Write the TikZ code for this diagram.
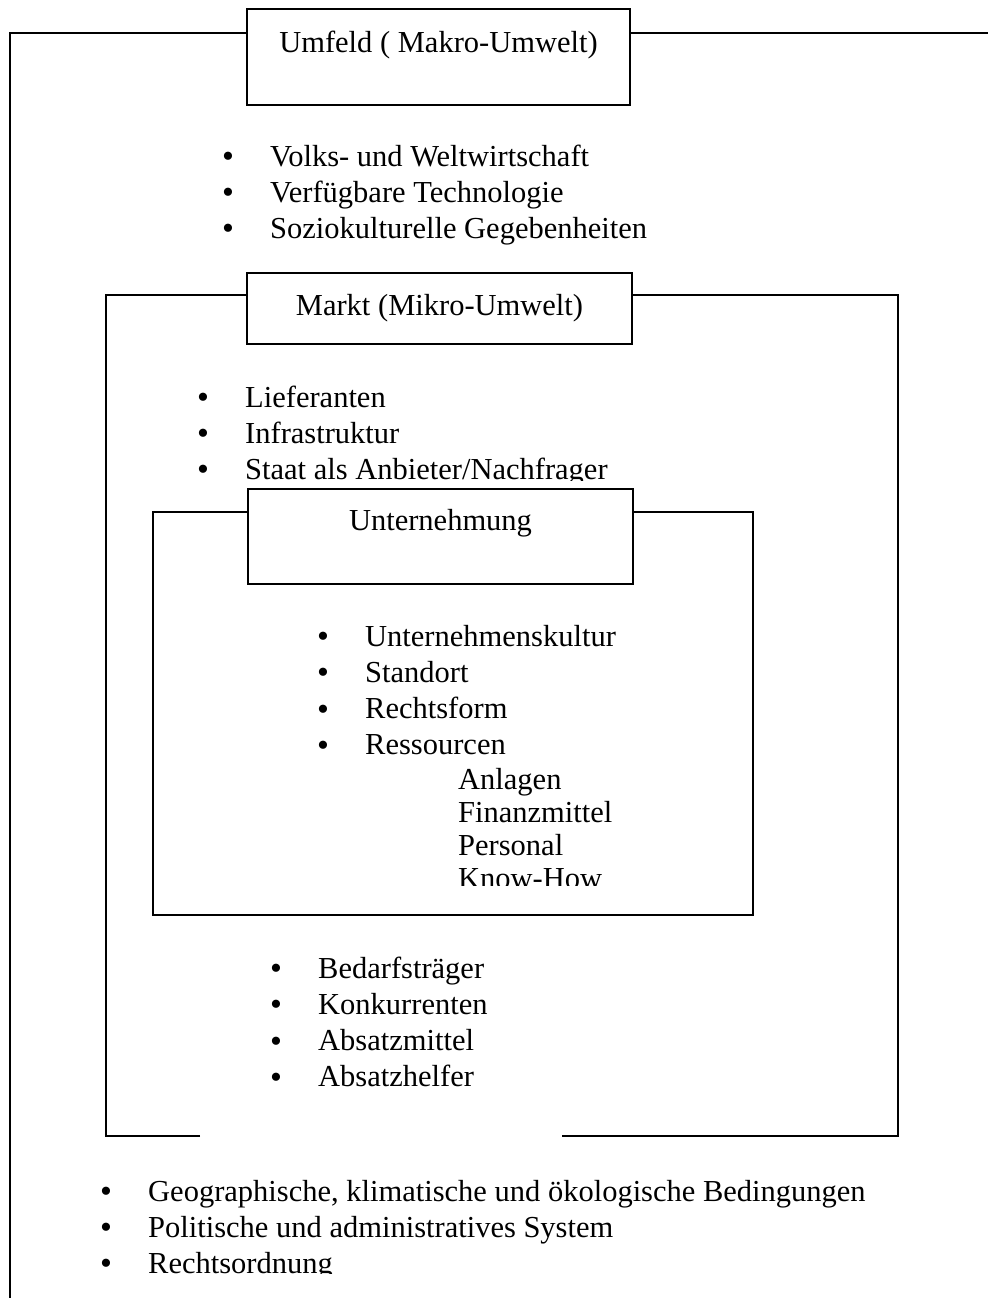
\documentclass[tikz,border=0pt]{standalone}
\usepackage{fontspec}
\setmainfont{Liberation Serif}
\usetikzlibrary{positioning}

\tikzset{
  frameline/.style={line width=1.6pt},
  titlebox/.style={draw, fill=white, line width=1.6pt, inner sep=0pt, anchor=north},
  entry/.style={anchor=base west, inner sep=0pt},
  dot/.style={anchor=base, inner sep=0pt, font=\fontsize{34}{34}\selectfont},
}

\begin{document}
\begin{tikzpicture}[x=1pt, y=-1pt, font=\fontsize{30.5}{36}\selectfont]
  \useasboundingbox (0,0) rectangle (988,1298);

  % Umfeld (outer frame)
  \draw [frameline] (10,1298) -- (10,33) -- (988,33);
  \node [titlebox, minimum width=383pt, text height=44pt, text depth=52pt] (umfeld) at (438.5,8) {Umfeld ( Makro-Umwelt)};
  \foreach \t [count=\i] in {Volks- und Weltwirtschaft, Verfügbare Technologie, Soziokulturelle Gegebenheiten} {
    \node [entry] (makro\i) at (270,{166+36*(\i-1)}) {\t};
    \node [dot] (makrob\i) at ([xshift=-42pt, yshift=-1.5pt]makro\i.base west) {•};
  }

  % Markt
  \draw [frameline] (200,1136) -- (106,1136) -- (106,295) -- (898,295) -- (898,1136) -- (562,1136);
  \node [titlebox, minimum width=385pt, text height=43pt, text depth=28pt] (markt) at (439.5,272) {Markt (Mikro-Umwelt)};
  \begin{scope}
    \clip (0,0) rectangle (988,480);
    \foreach \t [count=\i] in {Lieferanten, Infrastruktur, Staat als Anbieter/Nachfrager} {
      \node [entry] (mikro\i) at (245,{407+36*(\i-1)}) {\t};
      \node [dot] (mikrob\i) at ([xshift=-42pt, yshift=-1.5pt]mikro\i.base west) {•};
    }
  \end{scope}

  % Unternehmung
  \draw [frameline] (153,512) rectangle (753,915);
  \node [titlebox, minimum width=385pt, text height=42pt, text depth=53pt] (unternehmung) at (440.5,488) {Unternehmung};
  \foreach \t [count=\i] in {Unternehmenskultur, Standort, Rechtsform, Ressourcen} {
    \node [entry] (intern\i) at (365,{646+36.3*(\i-1)}) {\t};
    \node [dot] (internb\i) at ([xshift=-42pt, yshift=-1.5pt]intern\i.base west) {•};
  }
  \begin{scope}
    \clip (0,0) rectangle (988,885);
    \foreach \t [count=\i] in {Anlagen, Finanzmittel, Personal, Know-How} {
      \node [entry] (res\i) at (458,{789+33.3*(\i-1)}) {\t};
    }
  \end{scope}

  % Markt, untere Liste
  \foreach \t [count=\i] in {Bedarfsträger, Konkurrenten, Absatzmittel, Absatzhelfer} {
    \node [entry] (absatz\i) at (318,{978+36.3*(\i-1)}) {\t};
    \node [dot] (absatzb\i) at ([xshift=-42pt, yshift=-1.5pt]absatz\i.base west) {•};
  }

  % Umfeld, untere Liste
  \begin{scope}
    \clip (0,0) rectangle (988,1273);
    \foreach \t [count=\i] in {Geographische{,} klimatische und ökologische Bedingungen, Politische und administratives System, Rechtsordnung} {
      \node [entry] (umwelt\i) at (148,{1201+36*(\i-1)}) {\t};
      \node [dot] (umweltb\i) at ([xshift=-42pt, yshift=-1.5pt]umwelt\i.base west) {•};
    }
  \end{scope}
\end{tikzpicture}
\end{document}
